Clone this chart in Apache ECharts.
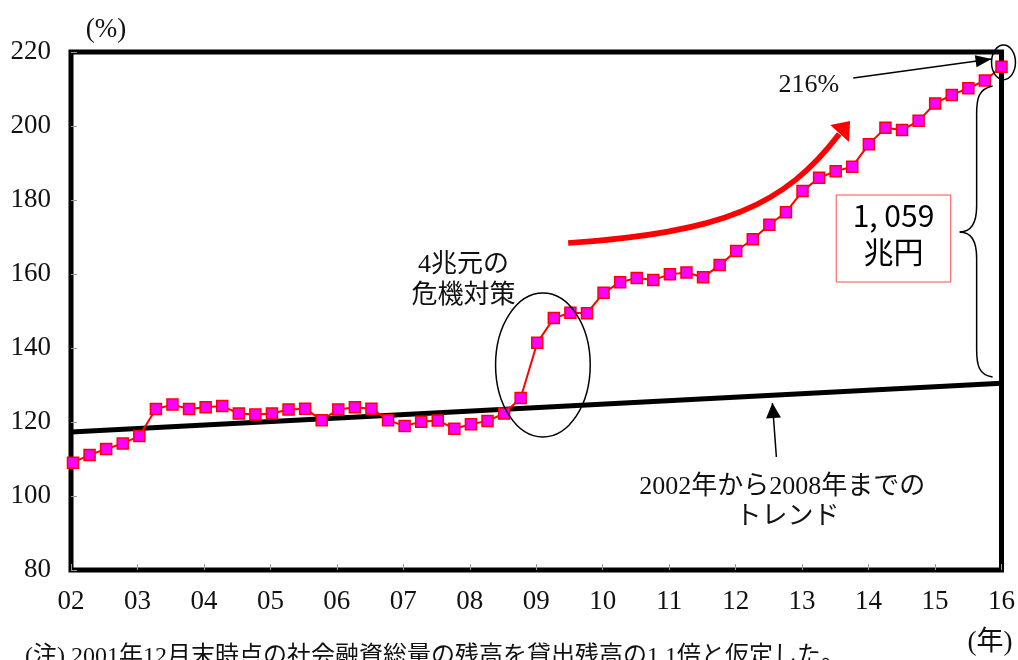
<!DOCTYPE html>
<html>
<head>
<meta charset="utf-8">
<script src="https://cdn.jsdelivr.net/npm/echarts@6/dist/echarts.min.js"></script>
<style>
  html, body { margin: 0; padding: 0; background: #fff; }
  #chart { width: 1018px; height: 660px; }
</style>
</head>
<body>
<div id="chart"></div>
<script>
// Quarterly credit ratio (%), first quarter of 2002 through first quarter of 2016
const firstYear = 2002;
const lastYear = 2016;
const yearLabels = ['02','03','04','05','06','07','08','09','10','11','12','13','14','15','16'];
const ratio = [
  109.0, 111.1, 112.7, 114.2,
  116.2, 123.5, 124.7, 123.5,
  124.0, 124.3, 122.3, 122.0,
  122.3, 123.4, 123.6, 120.5,
  123.4, 124.0, 123.6, 120.5,
  118.9, 120.1, 120.4, 118.2,
  119.4, 120.3, 122.3, 126.5,
  141.4, 148.1, 149.5, 149.4,
  154.9, 157.8, 158.9, 158.4,
  159.9, 160.4, 159.1, 162.4,
  166.2, 169.4, 173.3, 176.7,
  182.4, 186.0, 187.8, 189.0,
  195.1, 199.5, 198.9, 201.4,
  206.1, 208.4, 210.2, 212.3,
  216.0
];
// 2002-2008 trend line end values
const trendStart = 117.3;
const trendEnd = 130.5;

const SERIF = "'Liberation Serif','Noto Sans CJK JP',serif";
const GOTHIC = "'Noto Sans CJK JP',sans-serif";

const seriesData = ratio.map((v, i) => [firstYear + 0.03 + i * (lastYear - firstYear - 0.03) / (ratio.length - 1) , v]);

const chart = echarts.init(document.getElementById('chart'), null, { renderer: 'canvas' });

chart.setOption({
  animation: false,
  backgroundColor: '#fff',
  grid: {
    left: 71, right: 13, top: 52, bottom: 90,
    show: true, borderColor: '#000', borderWidth: 5, backgroundColor: 'transparent'
  },
  xAxis: {
    type: 'value', min: firstYear, max: lastYear, interval: 1,
    axisLine: { show: false },
    splitLine: { show: false },
    axisTick: { show: true, inside: true, length: 6, lineStyle: { color: '#999', width: 1 } },
    axisLabel: {
      margin: 18, color: '#111', fontFamily: SERIF, fontSize: 27,
      showMinLabel: true, showMaxLabel: true,
      formatter: v => yearLabels[Math.round(v - firstYear)]
    }
  },
  yAxis: {
    type: 'value', min: 80, max: 220, interval: 20,
    axisLine: { show: false },
    splitLine: { show: false },
    axisTick: { show: true, inside: true, length: 6, lineStyle: { color: '#999', width: 1 } },
    axisLabel: { margin: 20, color: '#111', fontFamily: SERIF, fontSize: 27, showMinLabel: true, showMaxLabel: true }
  },
  series: [
    {
      type: 'line',
      data: [[firstYear, trendStart], [lastYear, trendEnd]],
      symbol: 'none',
      lineStyle: { color: '#000', width: 5 },
      z: 3
    },
    {
      type: 'line',
      data: seriesData,
      symbol: 'rect',
      symbolSize: 11,
      lineStyle: { color: '#ff0000', width: 2 },
      itemStyle: { color: '#ff00ff', borderColor: '#ff0000', borderWidth: 1.5 },
      z: 4
    }
  ]
});

// Annotation layer, positioned from data coordinates
const P = (x, y) => chart.convertToPixel({ gridIndex: 0 }, [x, y]);

function arrowHead(tail, tip, len, halfW, color) {
  const dx = tip[0] - tail[0], dy = tip[1] - tail[1];
  const d = Math.hypot(dx, dy);
  const ux = dx / d, uy = dy / d;
  const bx = tip[0] - ux * len, by = tip[1] - uy * len;
  return {
    type: 'polygon',
    shape: { points: [tip, [bx - uy * halfW, by + ux * halfW], [bx + uy * halfW, by - ux * halfW]] },
    style: { fill: color },
    z: 20
  };
}

function label(text, pos, size, family, color, align) {
  return {
    type: 'text', z: 30,
    style: {
      text: text, x: pos[0], y: pos[1], fill: color || '#111',
      font: size + 'px ' + (family || SERIF),
      align: align || 'center', verticalAlign: 'middle',
      textAlign: align || 'center', textVerticalAlign: 'middle'
    }
  };
}

const g = [];

// Ellipse around the 2009 stimulus jump
const ec = P(2009.1, 135.4), er = P(2009.1 + 0.712, 135.4 + 19.46);
g.push({ type: 'ellipse', shape: { cx: ec[0], cy: ec[1], rx: er[0] - ec[0], ry: ec[1] - er[1] },
  style: { fill: 'none', stroke: '#000', lineWidth: 1.5 }, z: 20 });
g.push(label('4兆元の', P(2007.906, 162.43), 26));
g.push(label('危機対策', P(2007.906, 154.05), 26));

// Small ellipse around the latest value
const sc = P(2016.03, 217.2), sr = P(2016.03 + 0.18, 217.2 + 4.7);
g.push({ type: 'ellipse', shape: { cx: sc[0], cy: sc[1], rx: sr[0] - sc[0], ry: sc[1] - sr[1] },
  style: { fill: 'none', stroke: '#000', lineWidth: 1.5 }, z: 20 });

// 216% pointer
const a1 = P(2013.77, 213.0), a2 = P(2015.85, 218.1);
g.push({ type: 'line', shape: { x1: a1[0], y1: a1[1], x2: a2[0], y2: a2[1] },
  style: { stroke: '#000', lineWidth: 1.5 }, z: 20 });
g.push(arrowHead(a1, a2, 16, 6, '#000'));
g.push(label('216%', P(2013.1, 211.1), 26));

// Red curved trend arrow
const c0 = P(2009.48, 168.38), c1 = P(2011.804, 171.08), c2 = P(2012.748, 178.65), c3 = P(2013.558, 197.84);
g.push({ type: 'bezierCurve', shape: { x1: c0[0], y1: c0[1], cpx1: c1[0], cpy1: c1[1], cpx2: c2[0], cpy2: c2[1], x2: c3[0], y2: c3[1] },
  style: { stroke: '#ff0000', lineWidth: 5.5, fill: 'none' }, z: 20 });
g.push({ type: 'polygon', z: 20,
  shape: { points: [P(2013.423, 200.27), P(2013.722, 201.35), P(2013.706, 195.68)] },
  style: { fill: '#ff0000' } });

// Value box
const b1 = P(2013.513, 181.35), b2 = P(2015.236, 157.84);
g.push({ type: 'rect', z: 20,
  shape: { x: b1[0], y: b1[1], width: b2[0] - b1[0], height: b2[1] - b1[1] },
  style: { fill: '#fff', stroke: '#ff4d4d', lineWidth: 1 } });
const bx = (b1[0] + b2[0]) / 2, by = (b1[1] + b2[1]) / 2;
g.push(label('1, 059', [bx, by - 23], 30, GOTHIC, '#000'));
g.push(label('兆円', [bx, by + 13], 30, GOTHIC, '#000'));

// Curly brace spanning trend to latest value
const bt = P(2015.866, 210.8), bl = P(2015.626, 171.35), btip = P(2015.371, 171.35), bb = P(2015.866, 132.16);
const lx = bl[0], my = btip[1];
const braceStyle = { stroke: '#000', lineWidth: 1.5, fill: 'none' };
g.push({ type: 'bezierCurve', z: 20, style: braceStyle,
  shape: { x1: bt[0], y1: bt[1], cpx1: lx + 2, cpx2: lx, cpy1: bt[1] + 3, cpy2: bt[1] + 12, x2: lx, y2: bt[1] + 28 } });
g.push({ type: 'line', z: 20, style: braceStyle, shape: { x1: lx, y1: bt[1] + 28, x2: lx, y2: my - 26 } });
g.push({ type: 'bezierCurve', z: 20, style: braceStyle,
  shape: { x1: lx, y1: my - 26, cpx1: lx, cpy1: my - 6, cpx2: lx - 8, cpy2: my, x2: btip[0], y2: my } });
g.push({ type: 'bezierCurve', z: 20, style: braceStyle,
  shape: { x1: btip[0], y1: my, cpx1: lx - 8, cpy1: my, cpx2: lx, cpy2: my + 6, x2: lx, y2: my + 26 } });
g.push({ type: 'line', z: 20, style: braceStyle, shape: { x1: lx, y1: my + 26, x2: lx, y2: bb[1] - 28 } });
g.push({ type: 'bezierCurve', z: 20, style: braceStyle,
  shape: { x1: lx, y1: bb[1] - 28, cpx1: lx, cpy1: bb[1] - 12, cpx2: lx + 2, cpy2: bb[1] - 2, x2: bb[0], y2: bb[1] } });

// Pointer to the 2002-2008 trend line
const t1 = P(2012.613, 110.54), t2 = P(2012.553, 125.14);
g.push({ type: 'line', z: 20, shape: { x1: t1[0], y1: t1[1], x2: t2[0], y2: t2[1] },
  style: { stroke: '#000', lineWidth: 1.5 } });
g.push(arrowHead(t1, t2, 15, 7.5, '#000'));
g.push(label('2002年から2008年までの', P(2012.703, 102.43), 26));
g.push(label('トレンド', P(2012.78, 94.3), 26));

// Units and note
g.push(label('(%)', [106, 30], 27));
g.push(label('(年)', [990, 643], 27));
g.push({ type: 'text', z: 30,
  style: { text: '(注) 2001年12月末時点の社会融資総量の残高を貸出残高の1.1倍と仮定した。', x: 25, y: 645,
    fill: '#111', font: '24px ' + SERIF, align: 'left', verticalAlign: 'top', textAlign: 'left', textVerticalAlign: 'top' } });

chart.setOption({ graphic: g });
</script>
</body>
</html>
